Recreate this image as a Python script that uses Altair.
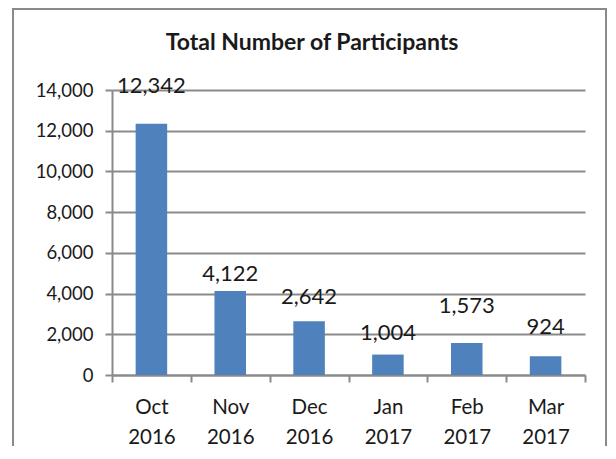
import altair as alt
import pandas as pd

months = ["Oct 2016", "Nov 2016", "Dec 2016", "Jan 2017", "Feb 2017", "Mar 2017"]
participants = [12342, 4122, 2642, 1004, 1573, 924]
label_lift = [38, 17, 24, 22, 37, 29]  # px above bar top where the value label sits

df = pd.DataFrame({"month": months, "n": participants, "lift": label_lift})
df["txt"] = [f"{v:,}" for v in participants]

FONT = "Lato"
GRAY = "#8a8a8a"
TXT = "#1a1a1a"
H = 285
YMAX = 14000

x_enc = alt.X("month:N", sort=None, title=None,
              scale=alt.Scale(paddingInner=0, paddingOuter=0),
              axis=alt.Axis(labelAngle=0, labelExpr="split(datum.label, ' ')",
                            labelFontSize=20.5, labelLineHeight=30, labelFont=FONT,
                            labelColor=TXT, labelPadding=15, tickBand="extent",
                            tickSize=7, tickColor=GRAY, tickWidth=2,
                            domainColor=GRAY, domainWidth=2, grid=False))
y_enc = alt.Y("n:Q", title=None,
              scale=alt.Scale(domain=[0, YMAX], nice=False),
              axis=alt.Axis(values=list(range(0, YMAX + 1, 2000)), format=",.0f",
                            labelFontSize=18.5, labelFont=FONT, labelColor=TXT,
                            labelPadding=12, tickSize=7, tickColor=GRAY, tickWidth=2,
                            domainColor=GRAY, domainWidth=2,
                            grid=True, gridColor=GRAY, gridWidth=2))

base = alt.Chart(df)
bars = base.mark_bar(color="#4f81bd", width=alt.RelativeBandSize(0.4)).encode(x=x_enc, y=y_enc)
labels = base.transform_calculate(
    ly=f"datum.n + datum.lift * {YMAX} / {H}"
).mark_text(font=FONT, fontSize=22, color=TXT, baseline="middle").encode(
    x=alt.X("month:N", sort=None, title=None),
    y=alt.Y("ly:Q", title=None),
    text="txt:N",
)
one = alt.Data(values=[{"k": 1}])
frame = alt.Chart(one).mark_rect(
    fillOpacity=0, stroke=GRAY, strokeWidth=2
).encode(x=alt.value(-99), x2=alt.value(494), y=alt.value(-81), y2=alt.value(420))
title = alt.Chart(one).mark_text(
    text="Total Number of Participants", font=FONT, fontSize=23, fontWeight="bold",
    color=TXT, baseline="alphabetic", align="center"
).encode(x=alt.value(200), y=alt.value(-40))

chart = alt.layer(bars, labels, frame, title).properties(
    width=473, height=H,
    background="white",
    autosize=alt.AutoSizeParams(type="none"),
    padding={"left": 104, "top": 82, "right": 23, "bottom": 71},
).configure_view(stroke=None)

chart.save("out.html", embed_options={"renderer": "svg", "actions": False})
